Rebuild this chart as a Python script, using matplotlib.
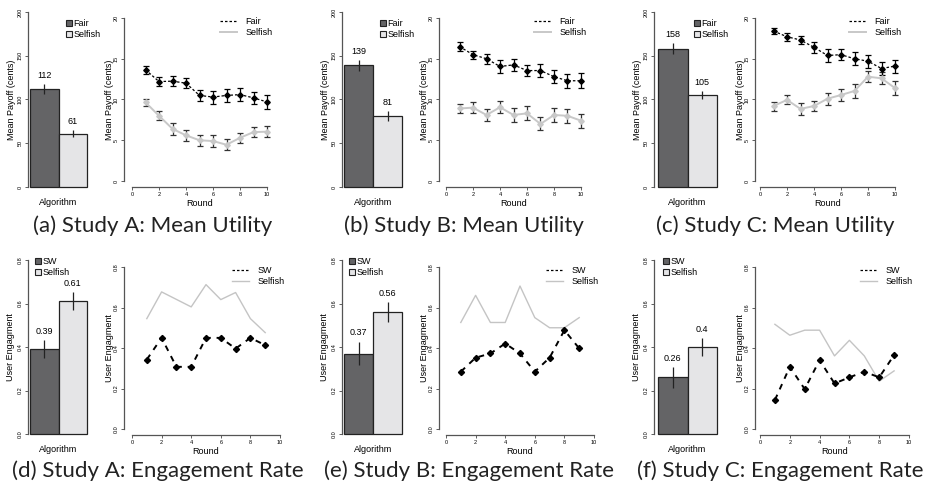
import matplotlib
matplotlib.use('Agg')
import matplotlib.pyplot as plt
from matplotlib.patches import Patch
from matplotlib.lines import Line2D
import numpy as np

W, H = 933, 494

# ---- data ----
algorithms_pay = ['Fair', 'Selfish']
algorithms_eng = ['SW', 'Selfish']

pay_bar_A = [112, 61]
pay_bar_err_A = [5.5, 4.0]
pay_bar_B = [139, 81]
pay_bar_err_B = [6.0, 6.0]
pay_bar_C = [158, 105]
pay_bar_err_C = [6.0, 5.0]

rounds_pay = np.arange(1, 11)
fair_A = [13.65, 12.2, 12.25, 12.0, 10.5, 10.3, 10.5, 10.6, 10.2, 9.7]
fair_err_A = [0.5, 0.6, 0.6, 0.6, 0.7, 0.8, 0.75, 0.8, 0.75, 0.85]
selfish_A = [9.65, 8.0, 6.4, 5.6, 5.0, 4.9, 4.45, 5.3, 6.0, 6.05]
selfish_err_A = [0.45, 0.55, 0.7, 0.7, 0.65, 0.7, 0.65, 0.65, 0.65, 0.7]

fair_B = [16.5, 15.5, 15.0, 14.05, 14.25, 13.55, 13.55, 12.8, 12.3, 12.3]
fair_err_B = [0.5, 0.5, 0.6, 0.8, 0.7, 0.7, 0.8, 0.8, 0.85, 0.9]
selfish_B = [8.9, 9.0, 8.1, 9.05, 8.1, 8.3, 7.0, 8.1, 8.0, 7.4]
selfish_err_B = [0.5, 0.7, 0.75, 0.75, 0.8, 0.85, 0.8, 0.8, 0.85, 0.85]

fair_C = [18.4, 17.7, 17.3, 16.4, 15.4, 15.5, 15.0, 14.7, 13.8, 14.1]
fair_err_C = [0.4, 0.5, 0.55, 0.7, 0.75, 0.7, 0.8, 0.8, 0.75, 0.8]
selfish_C = [9.2, 9.95, 8.85, 9.2, 10.1, 10.55, 11.05, 12.8, 12.6, 11.4]
selfish_err_C = [0.55, 0.55, 0.7, 0.65, 0.75, 0.75, 0.85, 0.7, 0.75, 0.85]

eng_bar_A = [0.39, 0.61]
eng_bar_err_A = [0.042, 0.042]
eng_bar_B = [0.37, 0.56]
eng_bar_err_B = [0.055, 0.045]
eng_bar_C = [0.26, 0.40]
eng_bar_err_C = [0.047, 0.042]

rounds_eng = np.arange(1, 10)
sw_A = [0.343, 0.45, 0.307, 0.307, 0.45, 0.45, 0.397, 0.45, 0.414]
self_eng_A = [0.545, 0.677, 0.64, 0.603, 0.713, 0.639, 0.674, 0.545, 0.476]
sw_B = [0.283, 0.352, 0.373, 0.422, 0.373, 0.283, 0.352, 0.488, 0.398]
self_eng_B = [0.526, 0.66, 0.526, 0.526, 0.706, 0.55, 0.5, 0.5, 0.55]
sw_C = [0.143, 0.307, 0.197, 0.34, 0.225, 0.255, 0.283, 0.255, 0.365]
self_eng_C = [0.517, 0.463, 0.488, 0.488, 0.361, 0.438, 0.361, 0.236, 0.287]

captions = ['(a) Study A: Mean Utility', '(b) Study B: Mean Utility',
            '(c) Study C: Mean Utility', '(d) Study A: Engagement Rate',
            '(e) Study B: Engagement Rate', '(f) Study C: Engagement Rate']

DARK = '#646466'
LIGHT = '#e5e5e7'
SANS = 'Liberation Sans'
FS = 6.5
TFS = 4.0

plt.rcParams['font.family'] = SANS
fig = plt.figure(figsize=(W / 100, H / 100), dpi=100)


def px_axes(left, top, right, bottom):
    return fig.add_axes([left / W, 1 - bottom / H, (right - left) / W, (bottom - top) / H])


def style_ticks(ax):
    ax.tick_params(axis='both', length=2.2, width=0.6, pad=1.5, labelsize=TFS, color='#444')
    for lab in ax.get_yticklabels():
        lab.set_rotation(90)
        lab.set_va('center')


def bar_panel(axis_x, bl, br, top, bottom, ymax, yticks, ytl, ylab, vals, errs, names,
              fmt, leg_x, leg_y, ylab_x):
    ax = px_axes(bl, top, br, bottom)
    ax.bar([0, 1], vals, width=1, align='edge', color=[DARK, LIGHT],
           edgecolor='#222', linewidth=0.9, clip_on=False)
    ax.errorbar([0.5, 1.5], vals, yerr=errs, fmt='none', ecolor='#222',
                elinewidth=0.9, capsize=0, clip_on=False)
    for x, v, e in zip([0.5, 1.5], vals, errs):
        ax.annotate(fmt.format(v), (x, v + e), xytext=(0, 3), textcoords='offset points',
                    ha='center', va='bottom', fontsize=FS)
    ax.set_xlim(0, 2)
    ax.set_ylim(0, ymax)
    for s in ['top', 'right', 'bottom']:
        ax.spines[s].set_visible(False)
    ax.spines['left'].set_position(('outward', (bl - axis_x) * 0.72))
    ax.spines['left'].set_bounds(0, ymax)
    ax.spines['left'].set_color('#555')
    ax.spines['left'].set_linewidth(0.9)
    ax.set_xticks([])
    ax.set_yticks(yticks)
    ax.set_yticklabels(ytl)
    style_ticks(ax)
    ax.set_xlabel('Algorithm', fontsize=FS, labelpad=8)
    ax.set_ylabel(ylab, fontsize=FS)
    ax.yaxis.set_label_coords((ylab_x - bl) / (br - bl), 0.5)
    handles = [Patch(facecolor=DARK, edgecolor='#222', linewidth=0.8),
               Patch(facecolor=LIGHT, edgecolor='#222', linewidth=0.8)]
    ax.legend(handles, names, loc='upper left', bbox_to_anchor=(leg_x / W, 1 - leg_y / H),
              bbox_transform=fig.transFigure, frameon=False, fontsize=FS,
              handlelength=0.65, handleheight=0.65, handletextpad=0.15, borderaxespad=0,
              borderpad=0, labelspacing=0.25)
    return ax


def line_panel(axis_x, x0, x10, y_top, y0, axis_y, ymax, yticks, ytl, ylab, rounds,
               s1, s2, names, e1, e2, leg_x, leg_y, ylab_x, payoff):
    ax = px_axes(x0, y_top, x10, y0)
    if payoff:
        ax.errorbar(rounds, s2, yerr=e2, color='#c8c8c8', lw=1.4, marker='D', ms=2.8,
                    mec='#c8c8c8', mfc='#c8c8c8', ecolor='#333', elinewidth=0.9,
                    capsize=2.5, capthick=0.9, clip_on=False)
        ax.errorbar(rounds, s1, yerr=e1, color='k', lw=0.9, ls=(0, (2, 1.6)), marker='D',
                    ms=2.8, ecolor='k', elinewidth=0.9, capsize=2.5, capthick=0.9,
                    clip_on=False)
        h1 = Line2D([], [], color='k', lw=0.9, ls=(0, (2, 1.6)))
        h2 = Line2D([], [], color='#c8c8c8', lw=1.4)
    else:
        ax.plot(rounds, s2, color='#c4c4c4', lw=1.0, clip_on=False)
        ax.plot(rounds, s1, color='k', lw=1.4, ls=(0, (3, 3)), marker='D', ms=3.1,
                clip_on=False)
        h1 = Line2D([], [], color='k', lw=0.9, ls=(0, (2, 1.6)))
        h2 = Line2D([], [], color='#c4c4c4', lw=1.0)
    ax.set_xlim(0, 10)
    ax.set_ylim(0, ymax)
    for s in ['top', 'right']:
        ax.spines[s].set_visible(False)
    ax.spines['left'].set_position(('outward', (x0 - axis_x) * 0.72))
    ax.spines['bottom'].set_position(('outward', (axis_y - y0) * 0.72))
    ax.spines['left'].set_bounds(0, ymax)
    ax.spines['bottom'].set_bounds(0, 10)
    for s in ['left', 'bottom']:
        ax.spines[s].set_color('#555')
        ax.spines[s].set_linewidth(0.9)
    ax.set_xticks(np.arange(0, 11, 2))
    ax.set_yticks(yticks)
    ax.set_yticklabels(ytl)
    style_ticks(ax)
    ax.set_xlabel('Round', fontsize=FS, labelpad=1)
    ax.set_ylabel(ylab, fontsize=FS)
    ax.yaxis.set_label_coords((ylab_x - x0) / (x10 - x0), 0.5)
    ax.legend([h1, h2], names, loc='upper left', bbox_to_anchor=(leg_x / W, 1 - leg_y / H),
              bbox_transform=fig.transFigure, frameon=False, fontsize=FS,
              handlelength=1.9, handletextpad=0.9, borderaxespad=0, borderpad=0,
              labelspacing=0.25)
    return ax


pay_bars = [(pay_bar_A, pay_bar_err_A), (pay_bar_B, pay_bar_err_B), (pay_bar_C, pay_bar_err_C)]
pay_lines = [(fair_A, selfish_A, fair_err_A, selfish_err_A),
             (fair_B, selfish_B, fair_err_B, selfish_err_B),
             (fair_C, selfish_C, fair_err_C, selfish_err_C)]
eng_bars = [(eng_bar_A, eng_bar_err_A), (eng_bar_B, eng_bar_err_B), (eng_bar_C, eng_bar_err_C)]
eng_lines = [(sw_A, self_eng_A), (sw_B, self_eng_B), (sw_C, self_eng_C)]

# pixel layout per column: bar axis x, bar left, bar right, line y-axis x, line x0
cols = [(28, 30, 87, 124, 132), (342, 344, 402, 439, 446), (654, 658, 717, 755, 760)]
top_x10 = [267, 581, 895]
bot_x10 = [280, 594, 909]
bar_leg_top = [66, 380, 694]
bar_leg_bot = [35, 349, 663]
line_leg_top = [220, 534, 849]
line_leg_bot = [232, 546, 860]

pay_ticks = [0, 50, 100, 150, 200]
pay_line_ticks = [0, 5, 10, 15, 20]
eng_ticks = [0, 0.2, 0.4, 0.6, 0.8]
eng_tl = ['0.0', '0.2', '0.4', '0.6', '0.8']

for i, (ax_x, bl, br, lax, lx0) in enumerate(cols):
    vals, errs = pay_bars[i]
    bar_panel(ax_x, bl, br, 12, 187, 200, pay_ticks, [str(t) for t in pay_ticks],
              'Mean Payoff (cents)', vals, errs, algorithms_pay, '{:d}',
              bar_leg_top[i], 19, ax_x - 12)
    f, s, fe, se = pay_lines[i]
    line_panel(lax, lx0, top_x10[i], 18, 181, 187, 20, pay_line_ticks,
               [str(t) for t in pay_line_ticks], 'Mean Payoff (cents)', rounds_pay,
               f, s, algorithms_pay, fe, se, line_leg_top[i], 17, lax - 10, True)

    vals, errs = eng_bars[i]
    bar_panel(ax_x, bl, br, 260, 434, 0.8, eng_ticks, eng_tl, 'User Engagment', vals, errs,
              algorithms_eng, '{:g}', bar_leg_bot[i], 257, ax_x - 13)
    sw, se_ = eng_lines[i]
    line_panel(lax, lx0, bot_x10[i], 267, 429, 435, 0.8, eng_ticks, eng_tl, 'User Engagment',
               rounds_eng, sw, se_, algorithms_eng, None, None, line_leg_bot[i], 266,
               lax - 10, False)

for i, cap in enumerate(captions):
    cx = (153 if i < 3 else 158) + 311 * (i % 3)
    cy = 226 if i < 3 else 471
    fig.text(cx / W, 1 - cy / H, cap, ha='center', va='center', fontsize=16,
             family='Lato', color='#222')

fig.savefig('out.png', dpi=100)
